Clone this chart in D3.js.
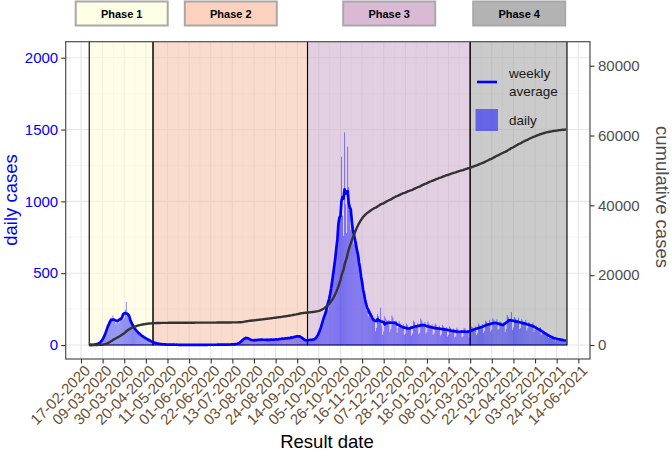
<!DOCTYPE html>
<html><head><meta charset="utf-8">
<script src="https://cdn.jsdelivr.net/npm/d3@7"></script>
<style>body{margin:0;background:#fff}svg{display:block;font-family:"Liberation Sans",Arial,sans-serif}</style>
</head><body><svg id="c" width="672" height="452"></svg>
<script>
// ---------------- data ----------------
const startDate = "25-02-2020";
const daily = [
0,1,0,2,1,3,2, 4,6,9,12,18,22,30, 48,62,85,104,130,148,175, 192,170,205,186,160,148,172,
168,155,182,198,210,176,190, 245,300,228,205,186,170,150, 140,124,118,96,102,88,80,
82,70,64,58,55,50,46, 44,40,34,28,24,26,20, 16,14,12,10,9,8,6, 6,5,4,5,3,4,2,
3,2,4,2,1,3,2, 2,1,3,1,2,0,1, 2,1,0,2,1,1,3, 1,2,0,1,2,1,0, 1,3,1,2,0,1,2,
1,0,2,1,3,2,1, 2,1,0,3,2,1,2, 4,2,3,1,2,3,2, 3,5,2,4,3,2,5, 4,6,3,5,8,12,10,
18,26,35,42,55,60,48, 52,44,38,30,36,32,28, 34,30,38,42,36,33,40, 38,35,42,37,30,34,39,
36,40,33,38,44,35,31, 40,37,45,42,36,48,41, 44,50,46,39,52,47,43, 55,50,58,62,48,57,64,
60,70,66,58,48,36,30, 26,30,32,34,38,36,40, 34,38,35,40,48,60,80, 100,120,140,165,195,225,255,
260,245,310,360,420,390,500, 540,600,680,740,800,860,920, 1310,900,760,1480,980,780,1380,
1100,980,800,900,760,700,800, 690,720,600,620,490,500,400, 420,310,330,240,270,200,215,
240,220,190,170,185,95,120, 215,200,180,260,135,70,95, 200,185,170,150,175,90,110,
205,190,165,150,170,85,120, 165,150,140,125,145,70,80, 150,140,125,115,130,65,80,
170,160,140,130,150,75,85, 185,170,150,140,160,80,90, 165,150,135,125,145,70,80,
150,140,125,115,135,65,75, 140,130,120,110,125,60,70, 130,120,105,100,115,55,60,
120,110,100,95,105,55,60, 120,115,100,95,105,50,60, 130,125,115,110,130,70,80,
150,140,130,125,145,85,98, 170,160,150,145,175,95,107, 185,175,165,155,180,105,113,
165,160,150,140,160,90,113, 210,195,180,170,230,105,122, 195,185,175,165,190,110,118,
180,170,160,150,175,100,117, 160,150,145,135,155,90,106, 135,125,115,105,125,70,90,
95,90,85,75,80,50,57, 62,58,55,50,52,30,35, 48,45,42,38,42,22,27, 32,35
];
const xTickLabels = ["17-02-2020","09-03-2020","30-03-2020","20-04-2020","11-05-2020","01-06-2020",
"22-06-2020","13-07-2020","03-08-2020","24-08-2020","14-09-2020","05-10-2020","26-10-2020",
"16-11-2020","07-12-2020","28-12-2020","18-01-2021","08-02-2021","01-03-2021","22-03-2021",
"12-04-2021","03-05-2021","24-05-2021","14-06-2021"];
const leftTicks = [0,500,1000,1500,2000];
const rightTicks = [0,20000,40000,60000,80000];
const phaseNames = ["Phase 1","Phase 2","Phase 3","Phase 4"];
const phaseStarts = ["25-02-2020","27-04-2020","24-09-2020","01-03-2021"];
const phaseEnds   = ["27-04-2020","24-09-2020","01-03-2021","03-06-2021"];

// ---------------- styles / layout ----------------
const phaseFill = ["rgb(253,253,213)","rgb(246,191,168)","rgb(202,170,202)","rgb(160,160,160)"];
const phaseBoxFill = ["#FFFFE6","#FCD2BE","#D9B9D4","#B3B3B3"];
const boxCenters = [121.7, 230.8, 389.2, 519.2];
const P = {l:65.7, r:590, t:41.7, b:359};

const parse = d3.utcParse("%d-%m-%Y");
const fmt = d3.utcFormat("%d-%m-%Y");
const t0 = parse(startDate);
const rows = daily.map((v,i)=>({date:d3.utcDay.offset(t0,i), v}));
const cum = d3.cumsum(daily);
const weekly = daily.map((v,i)=>d3.mean(daily.slice(Math.max(0,i-3), Math.min(daily.length,i+4))));

const x = d3.scaleUtc().domain([parse(xTickLabels[0]), parse(xTickLabels[xTickLabels.length-1])]).range([81,578.3]);
const yL = d3.scaleLinear().domain([0,2000]).range([345,57.7]);
const yR = d3.scaleLinear().domain([0,80000]).range([345,65.7]);

const svg = d3.select("#c");
svg.append("defs").append("clipPath").attr("id","clip")
  .append("rect").attr("x",P.l).attr("y",P.t).attr("width",P.r-P.l).attr("height",P.b-P.t);
const g = svg.append("g").attr("clip-path","url(#clip)");

g.append("rect").attr("x",P.l).attr("y",P.t).attr("width",P.r-P.l).attr("height",P.b-P.t).attr("fill","#fff");

// grid
const tickDates = xTickLabels.map(parse);
const tx = tickDates.map(d=>x(d));
const half = (tx[1]-tx[0])/2;
const minorX = [tx[0]-half, ...tx.map(v=>v+half)];
g.selectAll(".vmin").data(minorX).join("line").attr("x1",d=>d).attr("x2",d=>d).attr("y1",P.t).attr("y2",P.b)
  .attr("stroke","#F0F0F0").attr("stroke-width",0.6);
g.selectAll(".vmaj").data(tx).join("line").attr("x1",d=>d).attr("x2",d=>d).attr("y1",P.t).attr("y2",P.b)
  .attr("stroke","#E6E6E6").attr("stroke-width",1.1);
const minorY = [250,750,1250,1750];
g.selectAll(".hmin").data(minorY).join("line").attr("y1",d=>yL(d)).attr("y2",d=>yL(d)).attr("x1",P.l).attr("x2",P.r)
  .attr("stroke","#F0F0F0").attr("stroke-width",0.6);
g.selectAll(".hmaj").data(leftTicks).join("line").attr("y1",d=>yL(d)).attr("y2",d=>yL(d)).attr("x1",P.l).attr("x2",P.r)
  .attr("stroke","#E6E6E6").attr("stroke-width",1.1);

// phases
const phases = phaseNames.map((n,i)=>({n, s:parse(phaseStarts[i]), e:parse(phaseEnds[i]), f:phaseFill[i]}));
g.selectAll(".ph").data(phases).join("rect")
  .attr("x",d=>x(d.s)).attr("width",d=>x(d.e)-x(d.s))
  .attr("y",P.t-5).attr("height",d=>yL(0)-P.t+5)
  .attr("fill",d=>d.f).attr("fill-opacity",0.55)
  .attr("stroke","#000").attr("stroke-width",1.1);

// bars
const dayW = x(d3.utcDay.offset(t0,1))-x(t0);
g.selectAll(".bar").data(rows).join("rect")
  .attr("x",d=>x(d.date)-dayW*0.45).attr("width",dayW*0.9)
  .attr("y",d=>yL(d.v)).attr("height",d=>yL(0)-yL(d.v))
  .attr("fill","blue").attr("fill-opacity",0.5);

// weekly average
g.append("path").datum(rows).attr("fill","none").attr("stroke","blue").attr("stroke-width",2.7)
  .attr("stroke-linejoin","round")
  .attr("d",d3.line().x(d=>x(d.date)).y((d,i)=>yL(weekly[i])));
// cumulative
g.append("path").datum(rows).attr("fill","none").attr("stroke","#333333").attr("stroke-width",2.4)
  .attr("stroke-linejoin","round")
  .attr("d",d3.line().x(d=>x(d.date)).y((d,i)=>yR(cum[i])));

// legend
const lg = svg.append("g");
lg.append("line").attr("x1",477).attr("x2",497).attr("y1",82).attr("y2",82).attr("stroke","blue").attr("stroke-width",2.6);
lg.append("text").attr("x",509).attr("y",78).text("weekly").attr("font-size",13.5).attr("fill","#1a1a1a");
lg.append("text").attr("x",509).attr("y",96).text("average").attr("font-size",13.5).attr("fill","#1a1a1a");
lg.append("rect").attr("x",475.5).attr("y",109).attr("width",22.5).attr("height",22).attr("fill","blue").attr("fill-opacity",0.5);
lg.append("text").attr("x",509).attr("y",125).text("daily").attr("font-size",13.5).attr("fill","#1a1a1a");

// panel border
svg.append("rect").attr("x",P.l).attr("y",P.t).attr("width",P.r-P.l).attr("height",P.b-P.t)
  .attr("fill","none").attr("stroke","#4D4D4D").attr("stroke-width",1.2);

// axes
const ax = svg.append("g").attr("transform",`translate(0,${P.b})`)
  .call(d3.axisBottom(x).tickValues(tickDates).tickFormat(fmt).tickSize(4.5).tickPadding(2));
ax.select(".domain").remove();
ax.selectAll(".tick line").attr("stroke","#333").attr("stroke-width",1.1);
ax.selectAll(".tick text").attr("font-size",15).attr("fill","#6B5034")
  .attr("text-anchor","end").attr("dy","0.71em")
  .attr("transform","translate(2,5) rotate(-45)").attr("y",0).attr("x",0);

const al = svg.append("g").attr("transform",`translate(${P.l},0)`)
  .call(d3.axisLeft(yL).tickValues(leftTicks).tickFormat(d3.format("d")).tickSize(4.5).tickPadding(3));
al.select(".domain").remove();
al.selectAll(".tick line").attr("stroke","#333").attr("stroke-width",1.1);
al.selectAll(".tick text").attr("font-size",15).attr("fill","blue");

const ar = svg.append("g").attr("transform",`translate(${P.r},0)`)
  .call(d3.axisRight(yR).tickValues(rightTicks).tickFormat(d3.format("d")).tickSize(4.5).tickPadding(3.5));
ar.select(".domain").remove();
ar.selectAll(".tick line").attr("stroke","#333").attr("stroke-width",1.1);
ar.selectAll(".tick text").attr("font-size",15).attr("fill","#4D4D4D");

// titles
svg.append("text").attr("transform","translate(17,200) rotate(-90)").attr("text-anchor","middle")
  .attr("font-size",18.5).attr("fill","blue").text("daily cases");
svg.append("text").attr("transform","translate(656,197) rotate(90)").attr("text-anchor","middle")
  .attr("font-size",18.5).attr("fill","#4D4D4D").text("cumulative cases");
svg.append("text").attr("x",327).attr("y",447.5).attr("text-anchor","middle")
  .attr("font-size",18.5).attr("fill","#000").text("Result date");

// phase label boxes
const pb = svg.selectAll(".pbox").data(phaseNames).join("g");
pb.append("rect").attr("x",(d,i)=>boxCenters[i]-46).attr("y",1.5).attr("width",92).attr("height",24)
  .attr("fill",(d,i)=>phaseBoxFill[i]).attr("stroke","#A8A8A8").attr("stroke-width",2);
pb.append("text").attr("x",(d,i)=>boxCenters[i]).attr("y",17.5).attr("text-anchor","middle")
  .attr("font-size",11).attr("font-weight","bold").attr("fill","#000").text(d=>d);
</script></body></html>
